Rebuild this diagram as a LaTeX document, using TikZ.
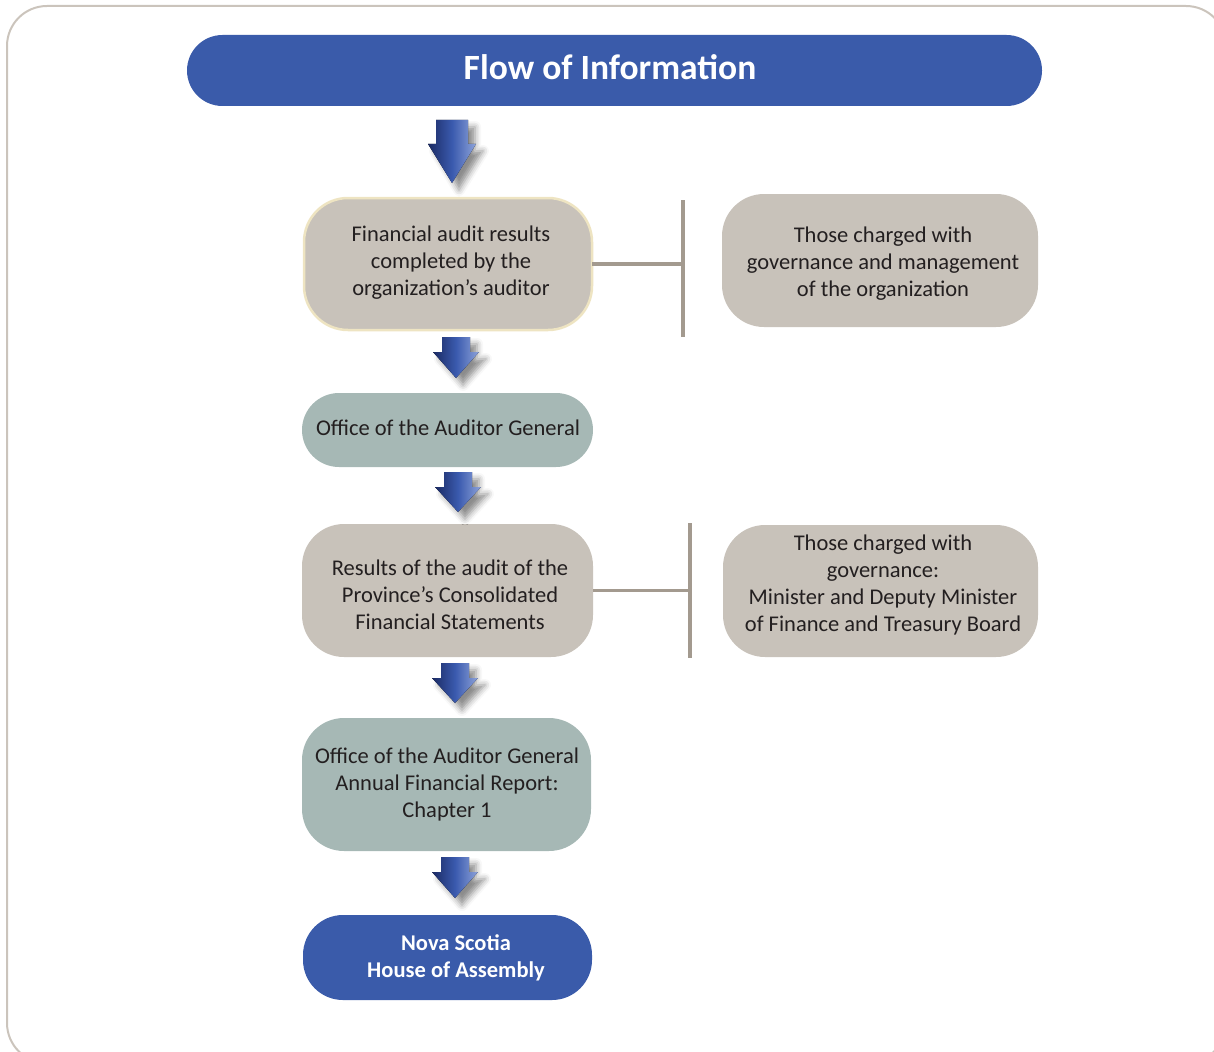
\documentclass[tikz,border=0pt]{standalone}
\usepackage{fontspec}
\setmainfont{Carlito}
\usetikzlibrary{shadows.blur}
\definecolor{boxgray}{HTML}{C8C2BA}
\definecolor{boxteal}{HTML}{A6B8B5}
\definecolor{titleblue}{HTML}{3A5BAA}
\definecolor{cream}{HTML}{EEE4C2}
\definecolor{conn}{HTML}{A39A8F}
\definecolor{framecol}{HTML}{CBC4BC}
\definecolor{ink}{HTML}{231F20}
\definecolor{arrdark}{HTML}{1B2A63}
\definecolor{arrmid}{HTML}{3A5AAE}
\definecolor{arrlight}{HTML}{8EA3DA}
\newcommand\flowarrow[6]{%
  \fill[arrowfill] (#1-#3/2,#2) -- (#1+#3/2,#2) -- (#1+#3/2,#2+#5) -- (#1+#4/2,#2+#5)
    -- (#1,#2+#5+#6) -- (#1-#4/2,#2+#5) -- (#1-#3/2,#2+#5) -- cycle;}
\begin{document}
\begin{tikzpicture}[x=1pt,y=-1pt,
  base/.style={inner sep=0pt, outer sep=0pt},
  graybox/.style={base, fill=boxgray},
  tealbox/.style={base, fill=boxteal},
  bluebox/.style={base, fill=titleblue},
  txt/.style={inner sep=0pt, align=center, text=ink, font=\fontsize{22.5}{27}\selectfont},
  whitetxt/.style={txt, text=white, font=\fontsize{22.5}{27}\selectfont\bfseries},
  connector/.style={draw=conn, line width=3.2pt},
  arrowfill/.style={left color=arrdark, right color=arrlight, middle color=arrmid,
    blur shadow={shadow xshift=7pt, shadow yshift=-7pt, shadow blur radius=6pt, shadow opacity=45}}
]
\useasboundingbox (0,0) rectangle (1214,1051);
\begin{scope}
\clip (0,0) rectangle (1214,1051);
\draw[framecol, line width=2pt, rounded corners=40pt] (7,6) rectangle (1226,1063);
\end{scope}

% title
\node[bluebox, minimum width=855pt, minimum height=71pt, rounded corners=35.5pt] (title) at (614.5,70.5) {};
\node[txt, text=white, font=\fontsize{35.5}{40}\selectfont\bfseries] (titlet) at (610,67) {Flow of Information};

% left column
\node[graybox, draw=cream, line width=2.5pt, minimum width=288pt, minimum height=132pt,
  rounded corners=44pt] (b1) at (448,264) {};
\node[txt] (b1t) at (451,263) {Financial audit results\\completed by the\\organization’s auditor};
\node[tealbox, minimum width=291pt, minimum height=74pt, rounded corners=37pt] (b2) at (447.5,430) {};
\node[txt] (b2t) at (448,428) {Office of the Auditor General};
\node[graybox, minimum width=291pt, minimum height=133pt, rounded corners=42pt] (b3) at (447.5,590.5) {};
\node[txt] (b3t) at (450,595) {Results of the audit of the\\Province’s Consolidated\\Financial Statements};
\node[tealbox, minimum width=289pt, minimum height=133pt, rounded corners=42pt] (b4) at (446.5,784.5) {};
\node[txt] (b4t) at (447,784) {Office of the Auditor General\\Annual Financial Report:\\Chapter 1};
\node[bluebox, minimum width=289pt, minimum height=85pt, rounded corners=40pt] (b5) at (447.5,957.5) {};
\node[whitetxt] (b5t) at (456,958) {Nova Scotia\\House of Assembly};

% right column
\node[graybox, minimum width=316pt, minimum height=133pt, rounded corners=42pt] (r1) at (880,260.5) {};
\node[txt] (r1t) at (883,264) {Those charged with\\governance and management\\of the organization};
\node[graybox, minimum width=315pt, minimum height=132pt, rounded corners=42pt] (r2) at (880.5,591) {};
\node[txt] (r2t) at (883,585)
  {Those charged with\\governance:\\Minister and Deputy Minister\\of Finance and Treasury Board};

% connectors
\coordinate (v1t) at (683,200);
\coordinate (v1b) at (683,337);
\coordinate (v2t) at (690,523);
\coordinate (v2b) at (690,658);
\draw[connector] (b1.east) -- (b1.east -| v1t);
\draw[connector] (v1t) -- (v1b);
\draw[connector] (b3.east) -- (b3.east -| v2t);
\draw[connector] (v2t) -- (v2b);

% arrows
\flowarrow{452}{120}{32}{48}{24}{39}
\flowarrow{456}{337}{28}{46}{15}{26}
\flowarrow{458}{472}{28}{46}{15}{25}
\flowarrow{455}{663}{28}{46}{15}{25}
\flowarrow{455}{857}{28}{46}{15}{26}
\end{tikzpicture}
\end{document}
